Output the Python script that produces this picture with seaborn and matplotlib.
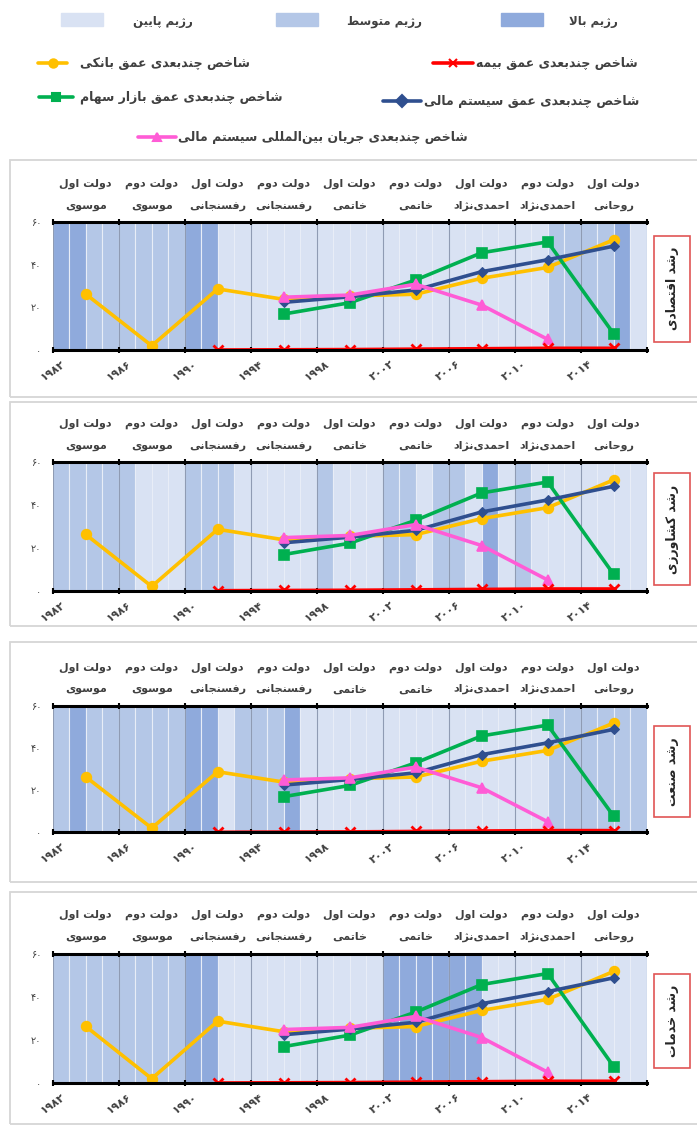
import numpy as np
import pandas as pd
import seaborn as sns
import matplotlib.pyplot as plt
from matplotlib.patches import Rectangle

# ---- data ----
years = list(range(1982, 2018))

banking_years = [1984, 1988, 1992, 1996, 2000, 2004, 2008, 2012, 2016]
banking = [26.3, 2.0, 28.7, 23.8, 25.4, 26.2, 33.7, 38.8, 51.8]
insurance_years = [1992, 1996, 2000, 2004, 2008, 2012, 2016]
insurance = [0.0, 0.1, 0.2, 0.4, 0.6, 0.8, 0.8]
stock_years = [1996, 2000, 2004, 2008, 2012, 2016]
stock = [16.9, 22.2, 32.9, 45.7, 50.8, 7.6]
fin_years = [1996, 2000, 2004, 2008, 2012, 2016]
fin_system = [22.4, 25.0, 28.2, 36.8, 42.4, 48.8]
intl_years = [1996, 2000, 2004, 2008, 2012]
intl_flow = [24.8, 25.8, 30.9, 21.1, 5.0]

# regime of each year 1982..2017 (0 low, 1 medium, 2 high)
regime_econ = [2, 2] + [1]*6 + [2, 2] + [0]*20 + [1]*4 + [2] + [0]
regime_agri = ([1]*5 + [0]*3 + [1]*3 + [0]*5 + [1] + [0]*3 + [1]*2 + [0]
               + [1]*2 + [0] + [2] + [0] + [1] + [0]*7)
regime_ind = [1, 2] + [1]*6 + [2]*2 + [0] + [1]*3 + [2] + [0]*15 + [1]*6
regime_serv = [1]*8 + [2]*2 + [0]*10 + [2]*6 + [0]*10
regimes = [regime_econ, regime_agri, regime_ind, regime_serv]

panel_titles = ['رشد اقتصادی', 'رشد کشاورزی', 'رشد صنعت', 'رشد خدمات']

gov_start = [1982, 1986, 1990, 1994, 1998, 2002, 2006, 2010, 2014]
gov_term = ['دولت اول', 'دولت دوم', 'دولت اول', 'دولت دوم', 'دولت اول',
            'دولت دوم', 'دولت اول', 'دولت دوم', 'دولت اول']
gov_name = ['موسوی', 'موسوی', 'رفسنجانی', 'رفسنجانی', 'خاتمی', 'خاتمی',
            'احمدی\u200cنژاد', 'احمدی\u200cنژاد', 'روحانی']

tick_years = [1982, 1986, 1990, 1994, 1998, 2002, 2006, 2010, 2014, 2018]
tick_labels = ['۱۹۸۲', '۱۹۸۶', '۱۹۹۰', '۱۹۹۴', '۱۹۹۸', '۲۰۰۲', '۲۰۰۶', '۲۰۱۰', '۲۰۱۴', '']
ytick_vals = [0, 20, 40, 60]
ytick_labels = ['۰', '۲۰', '۴۰', '۶۰']

regime_names = ['رژیم پایین', 'رژیم متوسط', 'رژیم بالا']
series_names = ['شاخص چندبعدی عمق بانکی', 'شاخص چندبعدی عمق بیمه',
                'شاخص چندبعدی عمق بازار سهام', 'شاخص چندبعدی عمق سیستم مالی',
                'شاخص چندبعدی جریان بین\u200cالمللی سیستم مالی']

# ---- colours ----
regime_colors = ['#D9E2F3', '#B4C7E7', '#8FAADC']
c_gold, c_red, c_green, c_blue, c_pink = '#FFC000', '#FF0000', '#00B050', '#2F4F8F', '#FF5CD6'

# ---- simple arabic/persian shaping (matplotlib has no text shaping) ----
FORMS = {
    'ا': ('\uFE8D', '\uFE8E', None, None), 'ب': ('\uFE8F', '\uFE90', '\uFE91', '\uFE92'),
    'پ': ('\uFB56', '\uFB57', '\uFB58', '\uFB59'), 'ت': ('\uFE95', '\uFE96', '\uFE97', '\uFE98'),
    'ج': ('\uFE9D', '\uFE9E', '\uFE9F', '\uFEA0'), 'چ': ('\uFB7A', '\uFB7B', '\uFB7C', '\uFB7D'),
    'ح': ('\uFEA1', '\uFEA2', '\uFEA3', '\uFEA4'), 'خ': ('\uFEA5', '\uFEA6', '\uFEA7', '\uFEA8'),
    'د': ('\uFEA9', '\uFEAA', None, None), 'ر': ('\uFEAD', '\uFEAE', None, None),
    'ز': ('\uFEAF', '\uFEB0', None, None), 'ژ': ('\uFB8A', '\uFB8B', None, None),
    'س': ('\uFEB1', '\uFEB2', '\uFEB3', '\uFEB4'), 'ش': ('\uFEB5', '\uFEB6', '\uFEB7', '\uFEB8'),
    'ص': ('\uFEB9', '\uFEBA', '\uFEBB', '\uFEBC'), 'ط': ('\uFEC1', '\uFEC2', '\uFEC3', '\uFEC4'),
    'ع': ('\uFEC9', '\uFECA', '\uFECB', '\uFECC'), 'ف': ('\uFED1', '\uFED2', '\uFED3', '\uFED4'),
    'ق': ('\uFED5', '\uFED6', '\uFED7', '\uFED8'), 'ک': ('\uFB8E', '\uFB8F', '\uFB90', '\uFB91'),
    'ل': ('\uFEDD', '\uFEDE', '\uFEDF', '\uFEE0'), 'م': ('\uFEE1', '\uFEE2', '\uFEE3', '\uFEE4'),
    'ن': ('\uFEE5', '\uFEE6', '\uFEE7', '\uFEE8'), 'و': ('\uFEED', '\uFEEE', None, None),
    'ه': ('\uFEE9', '\uFEEA', '\uFEEB', '\uFEEC'), 'ی': ('\uFBFC', '\uFBFD', '\uFBFE', '\uFBFF'),
}


def fa(text):
    chars = list(text)
    out = []
    i = 0
    while i < len(chars):
        c = chars[i]
        if c not in FORMS:
            if c != '\u200c':
                out.append(c)
            i += 1
            continue
        prev = chars[i-1] if i > 0 else None
        nxt = chars[i+1] if i + 1 < len(chars) else None
        link_prev = prev in FORMS and FORMS[prev][2] is not None
        if c == 'ل' and nxt == 'ا':
            out.append('\uFEFC' if link_prev else '\uFEFB')
            i += 2
            continue
        link_next = nxt in FORMS and FORMS[c][2] is not None
        iso, fin, ini, med = FORMS[c]
        if link_prev and link_next:
            out.append(med)
        elif link_prev:
            out.append(fin)
        elif link_next:
            out.append(ini)
        else:
            out.append(iso)
        i += 1
    return ''.join(reversed(out))


sns.set_theme(style='white')
plt.rcParams['font.family'] = ['DejaVu Sans']

W, H = 697, 1126
fig = plt.figure(figsize=(W/100, H/100), dpi=100)


def px_rect(x0, y0, x1, y1):
    return [x0/W, 1 - y1/H, (x1 - x0)/W, (y1 - y0)/H]


# chart-area frames
for (y0, y1) in [(160, 397), (402, 626), (642, 882), (892, 1124)]:
    fig.patches.append(Rectangle((10/W, 1 - y1/H), 700/W, (y1 - y0)/H, transform=fig.transFigure,
                                 fill=False, ec='#D6D6D6', lw=1.3))

axes_px = [(52.7, 222.3, 646.7, 350), (52.7, 462.3, 646.7, 590.7),
           (52.7, 705.7, 646.7, 832.3), (52.7, 953.7, 646.7, 1083)]

for k, (x0, y0, x1, y1) in enumerate(axes_px):
    ax = fig.add_axes(px_rect(x0, y0, x1, y1))
    ax.bar(years, 60, width=1, align='edge', color=[regime_colors[r] for r in regimes[k]],
           edgecolor='#E8EDF7', linewidth=0.8, zorder=0.2)
    ax.set_axisbelow('line')
    ax.grid(axis='x', color='#8F9BB3', lw=0.8)
    ax.grid(axis='y', visible=False)

    kw = dict(ax=ax, lw=2.6, markersize=7, markeredgewidth=1.2)
    sns.lineplot(x=banking_years, y=banking, color=c_gold, marker='o', markeredgecolor=c_gold, **kw)
    sns.lineplot(x=stock_years, y=stock, color=c_green, marker='s', markeredgecolor=c_green, **kw)
    sns.lineplot(x=fin_years, y=fin_system, color=c_blue, marker='D', markeredgecolor=c_blue,
                 ax=ax, lw=2.6, markersize=5.5)
    sns.lineplot(x=intl_years, y=intl_flow, color=c_pink, marker='^', markeredgecolor=c_pink, **kw)
    sns.lineplot(x=insurance_years, y=insurance, color=c_red, marker='x', markeredgecolor=c_red,
                 ax=ax, lw=2.6, markersize=7, markeredgewidth=2)

    ax.set_xlim(1982, 2018)
    ax.set_ylim(0, 60)
    ax.set_xticks(tick_years)
    ax.set_xticklabels(tick_labels, rotation=35, fontsize=8, fontweight='bold', color='#404040')
    ax.set_yticks(ytick_vals)
    ax.set_yticklabels(ytick_labels, fontsize=7, color='#404040')
    ax.tick_params(axis='x', direction='inout', length=5, width=1.5, top=True, bottom=True,
                   labeltop=False, pad=4, color='black')
    ax.tick_params(axis='y', length=0, pad=8)
    ax.set_xlabel('')
    ax.set_ylabel('')
    for s in ['left', 'right']:
        ax.spines[s].set_visible(False)
    for s in ['top', 'bottom']:
        ax.spines[s].set_color('black')
        ax.spines[s].set_linewidth(2.2)

    tr = ax.get_xaxis_transform()
    for g0, term, name in zip(gov_start, gov_term, gov_name):
        ax.text(g0 + 2, 1.30, fa(term), transform=tr, ha='center', va='center',
                fontsize=8, fontweight='bold', color='#404040')
        ax.text(g0 + 2, 1.13, fa(name), transform=tr, ha='center', va='center',
                fontsize=8, fontweight='bold', color='#404040')

    ax.text(1.0426, 0.48, fa(panel_titles[k]), transform=ax.transAxes, rotation=90,
            ha='center', va='center', fontsize=9, fontweight='bold', color='#262626',
            bbox=dict(boxstyle='square,pad=0.9', fc='white', ec='#E05555', lw=1.2))

# ---- legend ----
lax = fig.add_axes([0, 1 - 150/H, 1, 150/H])
lax.set_xlim(0, W)
lax.set_ylim(150, 0)
lax.axis('off')

for (sx, tx), name, col in zip([(61, 133), (276, 347), (501, 569)], regime_names, regime_colors):
    lax.add_patch(Rectangle((sx, 13), 42, 13, color=col))
    lax.text(tx, 22, fa(name), ha='left', va='center', fontsize=8.5, fontweight='bold', color='#404040')

leg_items = [((38, 67, 63), (80, 63), c_gold, 'o', series_names[0]),
             ((433, 473, 63), (476, 63), c_red, 'x', series_names[1]),
             ((39, 73, 97), (80, 97), c_green, 's', series_names[2]),
             ((383, 421, 101), (424, 101), c_blue, 'D', series_names[3]),
             ((138, 176, 137), (178, 137), c_pink, '^', series_names[4])]
for (lx0, lx1, ly), (tx, ty), col, mk, name in leg_items:
    lax.plot([lx0, lx1], [ly, ly], color=col, lw=2.6)
    lax.plot([(lx0 + lx1)/2], [ly], color=col, marker=mk, markersize=6, markeredgewidth=1.5)
    lax.text(tx, ty, fa(name), ha='left', va='center', fontsize=9, fontweight='bold', color='#404040')

fig.savefig('out.png', dpi=100)
